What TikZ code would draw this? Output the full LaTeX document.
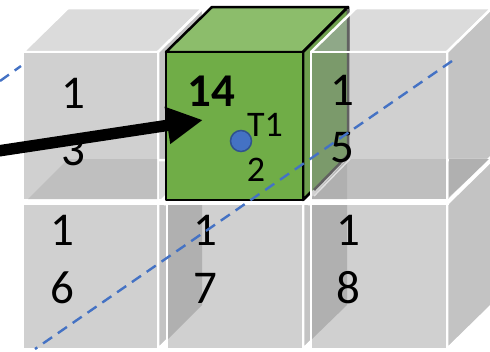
\documentclass[tikz,border=0pt]{standalone}
\usepackage{fontspec}
\setmainfont{Carlito}
\usetikzlibrary{calc, arrows.meta}

\definecolor{faceGray}{HTML}{D0D0D0}
\definecolor{topGray}{HTML}{DBDBDB}
\definecolor{sideGray}{HTML}{C3C3C3}
\definecolor{floorGray}{HTML}{BFBFBF}
\definecolor{shadeGray}{HTML}{B0B0B0}
\definecolor{cellGreen}{HTML}{70AD47}
\definecolor{topGreen}{HTML}{8CBD6B}
\definecolor{sideGreen}{HTML}{6E9F4E}
\definecolor{seenGreen}{HTML}{7B9A6B}
\definecolor{seenTop}{HTML}{8FA888}
\definecolor{lineBlue}{HTML}{4472C4}
\definecolor{edgeBlue}{HTML}{2F528F}

\tikzset{
    cellface/.style={draw=white, line width=2.5pt, line join=miter},
    cellnum/.style={inner sep=0pt, font=\fontsize{47}{47}\selectfont},
    smallnum/.style={inner sep=0pt, font=\fontsize{36}{36}\selectfont},
    greenface/.style={black, line width=2.5pt, line join=round},
    track/.style={lineBlue, line width=2.4pt, dash pattern=on 11pt off 7pt},
}

\begin{document}
\begin{tikzpicture}[x=1pt, y=-1pt]
        \useasboundingbox (0,0) rectangle (490,351);

        % --- GRAY CUBES BEHIND ---
        \foreach \cx/\cy in {23/52, 311/52, 23/204, 167/204, 311/204} {
            \pgfmathsetmacro{\cw}{\cx<100 ? 135 : 136}
            \pgfmathsetmacro{\ch}{\cy<100 ? 148 : 145}
            \draw[cellface, fill=topGray] (\cx,\cy) -- ++(45,-44) -- ++(\cw,0) -- ++(-45,44) -- cycle;
            \draw[cellface, fill=sideGray] (\cx+\cw,\cy) -- ++(45,-44) -- ++(0,\ch) -- ++(-45,44) -- cycle;
        }
        % darker wedge on the upper right side
        \fill[shadeGray] (449,159) -- (490,159) -- (449,197) -- cycle;
        \draw[white, line width=2.5pt] (447,202) -- (492,158);
        \fill[white] (21,199) rectangle (449,205);

        % --- GREEN CUBE ---
        \draw[greenface, fill=topGreen] (166,52) -- (212,7) -- (348,7) -- (303,52) -- cycle;
        \draw[greenface, fill=sideGreen] (303,52) -- (348,7) -- (348,155) -- (303,200) -- cycle;
        \draw[greenface, fill=cellGreen] (166,52) rectangle (303,200);

        % --- FRONT FACES ---
        \draw[cellface, fill=faceGray] (23,52) rectangle (158,200);
        \draw[cellface, fill=faceGray] (311,52) rectangle (447,200);
        \draw[cellface, fill=faceGray] (23,204) rectangle (158,349);
        \draw[cellface, fill=faceGray] (167,204) rectangle (303,349);
        \draw[cellface, fill=faceGray] (311,204) rectangle (447,349);

        % floors and inner walls seen through the faces
        \fill[floorGray] (68,159) -- (157,159) -- (157,199) -- (28,199) -- cycle;
        \fill[floorGray] (347,159) -- (446,159) -- (446,199) -- (347,199) -- cycle;
        \fill[shadeGray] (312,197) -- (347,159) -- (347,199) -- (312,199) -- cycle;
        \fill[seenGreen] (312,53) -- (347,53) -- (347,155) -- (312,191) -- cycle;
        \fill[seenTop] (312,51) -- (348,15) -- (348,51) -- cycle;
        \draw[black!62, line width=2.5pt] (348,9) -- (348,155) -- (314,190);
        \fill[shadeGray] (168,205) -- (202,205) -- (202,305) -- (168,339) -- cycle;
        \fill[shadeGray] (312,205) -- (347,205) -- (347,305) -- (312,339) -- cycle;
        \draw[white, line width=2.5pt] (311,52) -- (356,8);
        \draw[white, line width=2.5pt] (311,52) -- (447,52);
        \draw[white!88!black, line width=1.5pt] (314,196) -- (350,159);

        % --- LABELS ---
        \foreach \nm/\lx/\ly/\txt in {a/73/93/1, b/73/150/3, c/342/90/1, d/342/148/5,
                                      e/62/230/1, f/62/288/6, g/205/230/1, h/205/288/7,
                                      i/348/230/1, j/348/288/8} {
            \node[cellnum] (num\nm) at (\lx,\ly) {\txt};
        }
        \node[cellnum, font=\fontsize{47}{47}\selectfont\bfseries] (numBold) at (211,91) {14};
        \node[smallnum] (numTop) at (265,125) {T1};
        \node[smallnum] (numBot) at (256,170) {2};

        % --- TRACK LINES ---
        \coordinate (TrackA) at (452,61);
        \coordinate (TrackB) at (35,349);
        \coordinate (StubA) at (0,81);
        \coordinate (StubB) at (21,66);
        \draw[track] (TrackA) -- (TrackB);
        \draw[track] (StubA) -- (StubB);

        % --- POINT AND ARROW ---
        \node[circle, fill=lineBlue, draw=edgeBlue, line width=1.5pt, minimum size=21pt, inner sep=0pt] (Pt) at (241,141) {};
        \coordinate (ArrStart) at (-2,151);
        \coordinate (ArrEnd) at (203,120);
        \draw[-{Triangle[length=36pt, width=35pt]}, line width=11.5pt] (ArrStart) -- (ArrEnd);
\end{tikzpicture}
\end{document}
